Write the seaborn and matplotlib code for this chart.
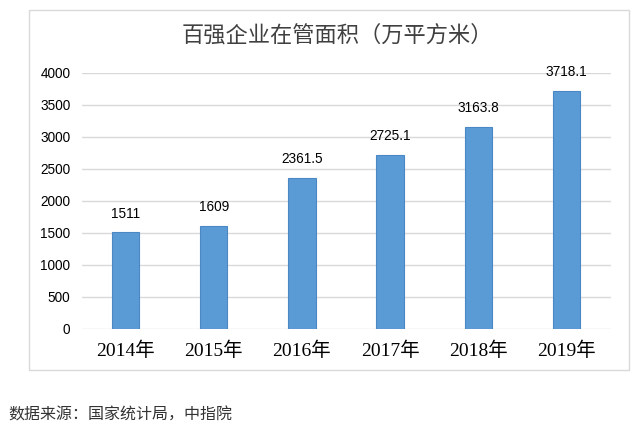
import matplotlib
matplotlib.use("Agg")
import matplotlib.pyplot as plt
import seaborn as sns
import pandas as pd
from matplotlib.patches import Rectangle

years = ["2014年", "2015年", "2016年", "2017年", "2018年", "2019年"]
values = [1511, 1609, 2361.5, 2725.1, 3163.8, 3718.1]
value_labels = ["1511", "1609", "2361.5", "2725.1", "3163.8", "3718.1"]
yticks = [0, 500, 1000, 1500, 2000, 2500, 3000, 3500, 4000]
title = "百强企业在管面积（万平方米）"
source = "数据来源：国家统计局，中指院"

sns.set_theme(style="white")
plt.rcParams['font.family'] = ['Noto Sans CJK SC', 'DejaVu Sans']

W, H = 631, 433
fig = plt.figure(figsize=(W / 100, H / 100), dpi=100)

# outer chart border
fig.patches.append(Rectangle((29 / W, 1 - 370 / H), 600 / W, 360 / H,
                             transform=fig.transFigure, fill=False,
                             edgecolor="#D9D9D9", linewidth=1.0, zorder=0))

ax = fig.add_axes([81.5 / W, 1 - 329 / H, (610.6 - 81.5) / W, (329 - 73) / H])
df = pd.DataFrame({"year": years, "value": values})
sns.barplot(data=df, x="year", y="value", ax=ax, color="#5B9BD5",
            width=0.31, edgecolor="#4A87C5", linewidth=0.8, saturation=1, zorder=3)

ax.set_ylim(0, 4000)
ax.set_xlim(-0.5, len(years) - 0.5)
ax.set_yticks(yticks)
ax.set_yticklabels([str(t) for t in yticks], fontsize=9.8, color="#000000",
                   family=['Liberation Sans'])
ax.yaxis.grid(True, color="#D9D9D9", linewidth=1.0, zorder=0)
ax.set_axisbelow(True)
for s in ax.spines.values():
    s.set_visible(False)
ax.tick_params(axis="y", length=0, pad=8)
ax.tick_params(axis="x", length=0, pad=9)
ax.set_xticks(range(len(years)))
ax.set_xticklabels(years, fontsize=14, color="#000000",
                   family=['Liberation Serif', 'Noto Sans CJK SC'])
ax.set_xlabel("")
ax.set_ylabel("")

for i, (v, lab) in enumerate(zip(values, value_labels)):
    ax.annotate(lab, (i, v), xytext=(0, 13.5), textcoords="offset points",
                ha="center", va="center", fontsize=9.8, color="#000000",
                family=['Liberation Sans'])

fig.text(337.5 / W, 1 - 35 / H, title, ha="center", va="center",
         fontsize=16, color="#404040", fontweight="light")
fig.text(8 / W, 1 - 415 / H, source, ha="left", va="center",
         fontsize=11.5, color="#333333")

fig.savefig("out.png", dpi=100)
